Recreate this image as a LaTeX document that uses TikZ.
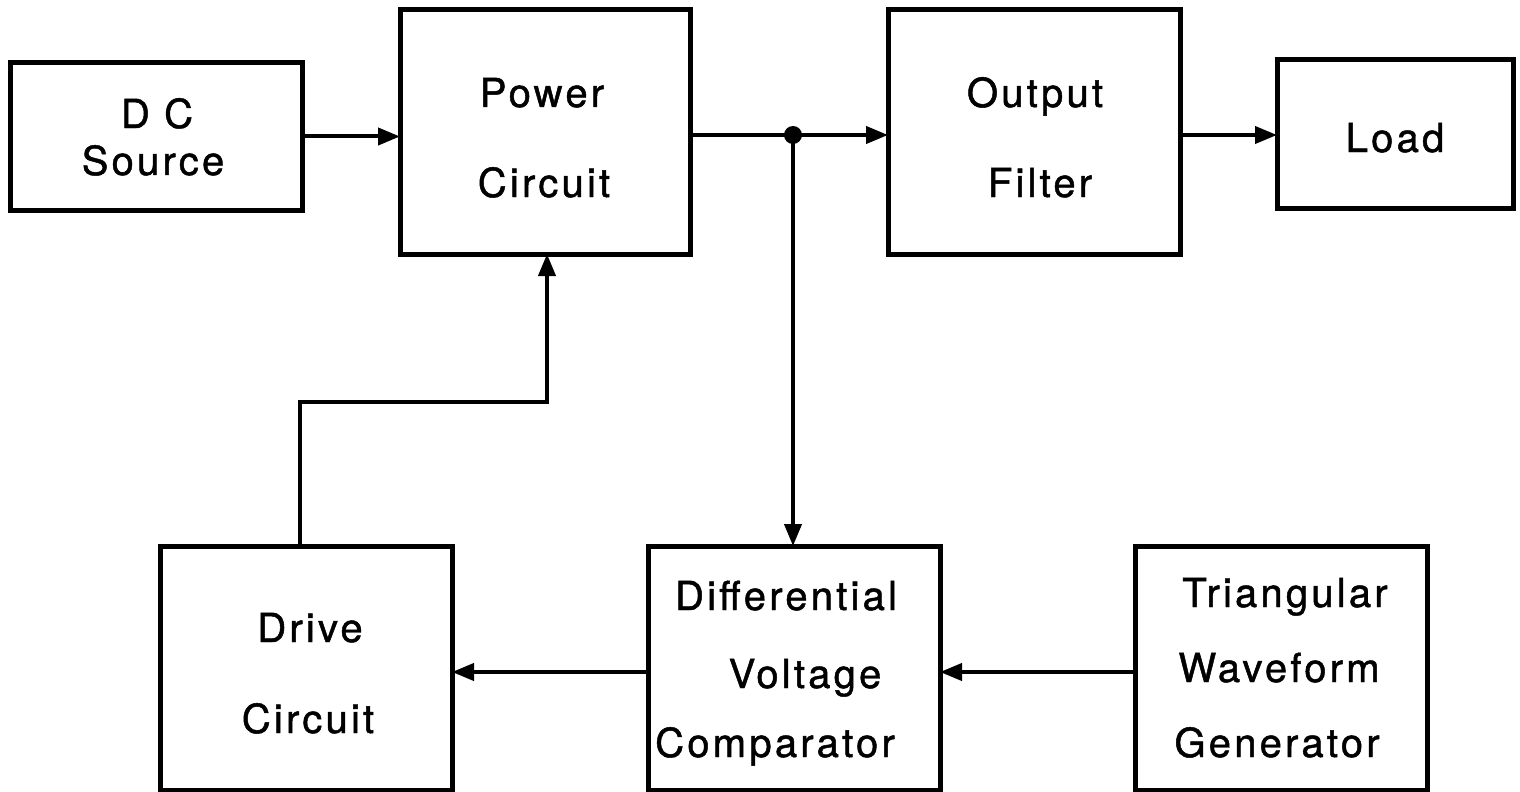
\documentclass[tikz,border=0pt]{standalone}
\usepackage{fontspec}
\setmainfont{TeX Gyre Heros}[LetterSpace=8,FakeBold=1.2]
\usetikzlibrary{arrows.meta}
\begin{document}
\begin{tikzpicture}[x=0.5pt,y=-0.5pt,
  blk/.style={draw,line width=2.5pt,inner sep=0pt,outer sep=0pt},
  lbl/.style={anchor=base,inner sep=0pt,font=\fontsize{20pt}{24pt}\selectfont},
  conn/.style={line width=2pt},
  arr/.style={conn,-{Triangle[length=11pt,width=8.5pt]}}]
\useasboundingbox (0,0) rectangle (1520,792);
% boxes
\node[blk,minimum width=146pt,minimum height=73.5pt] (dc) at (156,136.5) {};
\node[blk,minimum width=145pt,minimum height=122pt] (pc) at (545,132) {};
\node[blk,minimum width=146pt,minimum height=122pt] (of) at (1034,132) {};
\node[blk,minimum width=118pt,minimum height=74pt] (ld) at (1395,134) {};
\node[blk,minimum width=146pt,minimum height=122pt] (dr) at (306,668) {};
\node[blk,minimum width=146pt,minimum height=122pt] (cmp) at (794,668) {};
\node[blk,minimum width=146pt,minimum height=122pt] (tri) at (1281,668) {};
% labels
\node[lbl] (t1) at (157,128) {D C};
\node[lbl] (t2) at (153,175) {Source};
\node[lbl] (t3) at (542,107) {Power};
\node[lbl] (t4) at (544,197) {Circuit};
\node[lbl] (t5) at (1035,107) {Output};
\node[lbl] (t6) at (1040,197) {Filter};
\node[lbl] (t7) at (1395,152) {Load};
\node[lbl] (t8) at (310,642) {Drive};
\node[lbl] (t9) at (308,733) {Circuit};
\node[lbl] (t10) at (786,610) {Differential};
\node[lbl] (t11) at (805,688) {Voltage};
\node[lbl] (t12) at (775,757) {Comparator};
\node[lbl] (t13) at (1285,607) {Triangular};
\node[lbl] (t14) at (1279,682) {Waveform};
\node[lbl] (t15) at (1277,757) {Generator};
% junction and helper coordinates
\coordinate (j) at (793,135);
\coordinate (hA) at (300,402);
\coordinate (hB) at (547,402);
\coordinate (yb) at (0,672);
\fill (j) circle (4.5pt);
% connectors
\draw[arr] (dc.east) -- (pc.west |- dc.east);
\draw[conn] (pc.east |- j) -- (j);
\draw[arr] (j) -- (of.west |- j);
\draw[arr] (of.east |- j) -- (ld.west |- j);
\draw[arr] (j) -- (j |- cmp.north);
\draw[arr] (cmp.west |- yb) -- (dr.east |- yb);
\draw[arr] (tri.west |- yb) -- (cmp.east |- yb);
\draw[arr] (hA |- dr.north) -- (hA) -- (hB) -- (hB |- pc.south);
\end{tikzpicture}
\end{document}
